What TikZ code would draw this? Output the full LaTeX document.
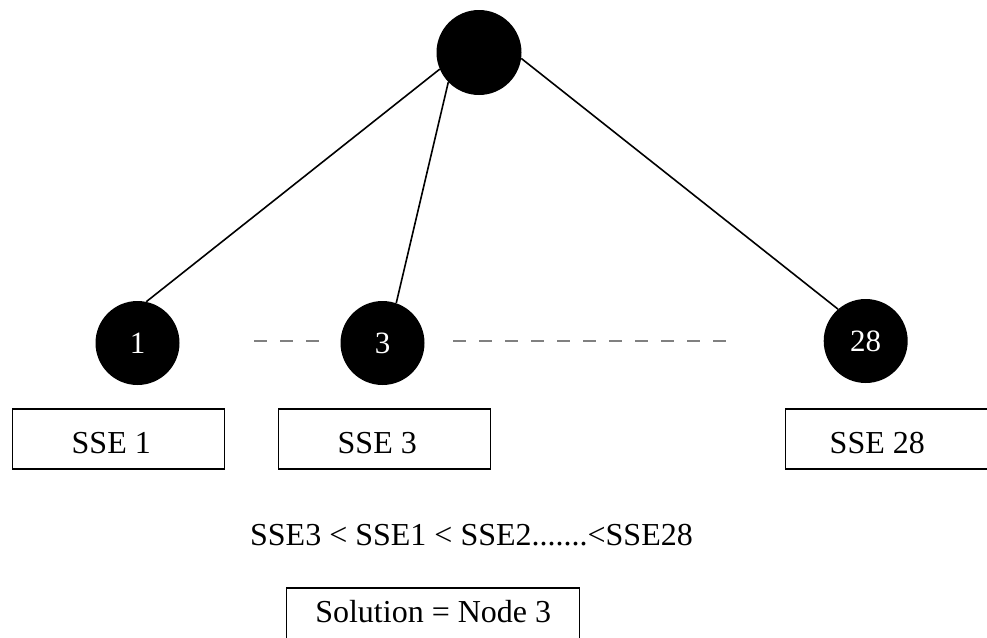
\documentclass[tikz,border=0pt]{standalone}
\usepackage{fontspec}
\setmainfont{Liberation Serif}
\newcommand{\lft}[2]{\makebox[#1][l]{#2}}
\begin{document}
\begin{tikzpicture}[x=1pt, y=-1pt,
        nd/.style={fill=black, circle, minimum size=84pt, inner sep=0pt, text=white, font=\fontsize{31}{37}\selectfont},
        ed/.style={line width=1.6pt},
        dl/.style={line width=1.6pt, gray, dash pattern=on 13pt off 13pt},
        bx/.style={draw, line width=1.4pt, minimum height=60pt, inner xsep=59pt, text height=28pt, text depth=0pt, font=\fontsize{32}{38}\selectfont, anchor=west}
      ]
      \useasboundingbox (0,0) rectangle (987,637);
      \clip (0,0) rectangle (987,637);
      \node[nd, minimum size=85pt] (root) at (479,52.5) {};
      \foreach \lbl/\px/\py/\a/\b in {1/137.5/343/203/78, 3/382.5/343/224/71, 28/865.7/341/352/131} {
        \node[nd] (n\lbl) at (\px,\py) {\lbl};
        \draw[ed] (root.\a) -- (n\lbl.\b);
      }
      \coordinate (da) at (254,340.7);
      \coordinate (db) at (320,340.7);
      \coordinate (dc) at (453,340.7);
      \coordinate (dd) at (726,340.7);
      \draw[dl] (da) -- (db);
      \draw[dl] (dc) -- (dd);
      \node[bx] (b1) at (12,439) {\lft{94pt}{SSE 1}};
      \node[bx] (b3) at (278,439) {\lft{94pt}{SSE 3}};
      \node[bx, inner xsep=44pt] (b28) at (785,439) {\lft{140pt}{SSE 28}};
      \node[anchor=base, font=\fontsize{32}{38}\selectfont] (ord) at (471.5,545) {SSE3 < SSE1 < SSE2.......<SSE28};
      \node[bx, anchor=north west, minimum width=293pt, inner xsep=0pt, text height=22pt, text depth=13pt] (sol) at (286,587.3) {Solution = Node 3};
    \end{tikzpicture}
\end{document}
